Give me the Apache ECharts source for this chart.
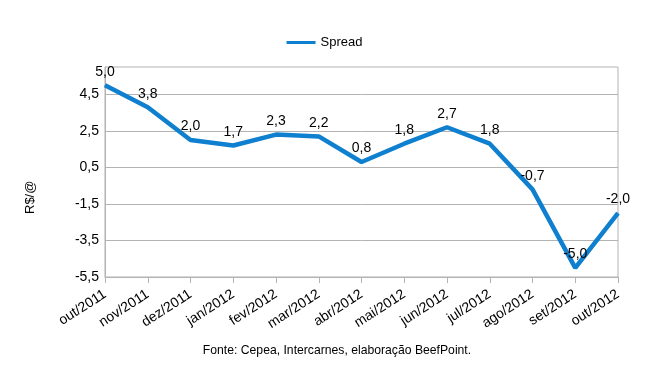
<!DOCTYPE html>
<html><head><meta charset="utf-8">
<script src="https://cdn.jsdelivr.net/npm/echarts@6/dist/echarts.min.js"></script>
<style>html,body{margin:0;padding:0;background:#fff}#c{width:649px;height:379px}</style>
</head><body><div id="c"></div>
<script>
const categories = ['out/2011','nov/2011','dez/2011','jan/2012','fev/2012','mar/2012','abr/2012','mai/2012','jun/2012','jul/2012','ago/2012','set/2012','out/2012'];
const spread = [5.0, 3.8, 2.0, 1.7, 2.3, 2.2, 0.8, 1.8, 2.7, 1.8, -0.7, -5.0, -2.0];
const yTicks = [-5.5, -3.5, -1.5, 0.5, 2.5, 4.5];
const seriesName = 'Spread';
const yName = 'R$/@';
const footer = 'Fonte: Cepea, Intercarnes, elaboração BeefPoint.';

const fmt = v => Number(v).toFixed(1).replace('.', ',');
const FONT = '"Liberation Sans", Arial, sans-serif';
const chart = echarts.init(document.getElementById('c'), null, {renderer: 'canvas'});
chart.setOption({
  animation: false,
  backgroundColor: '#fff',
  textStyle: {fontFamily: FONT},
  legend: {
    top: 31, left: 'center',
    itemWidth: 29, itemHeight: 12, itemGap: 5,
    icon: 'path://M0,4.5 L29,4.5 L29,7.5 L0,7.5 Z',
    textStyle: {fontFamily: FONT, fontSize: 13, color: '#000'},
    data: [seriesName]
  },
  grid: {left: 105, right: 31, top: 67, bottom: 102, show: true, borderColor: '#b3b3b3', borderWidth: 1, backgroundColor: 'transparent'},
  xAxis: {
    type: 'category', data: categories, boundaryGap: false,
    axisLine: {onZero: false, lineStyle: {color: '#b3b3b3'}},
    axisTick: {show: true, length: 6, lineStyle: {color: '#b3b3b3'}, alignWithLabel: true},
    axisLabel: {rotate: 33, color: '#000', fontSize: 14, fontFamily: FONT, margin: 16, interval: 0},
    splitLine: {show: false}
  },
  yAxis: {
    type: 'value', min: -5.5, max: 6.0,
    axisLine: {show: true, lineStyle: {color: '#b3b3b3'}},
    axisTick: {show: false, customValues: yTicks},
    axisLabel: {customValues: yTicks, color: '#000', fontSize: 14, fontFamily: FONT, margin: 6, formatter: v => fmt(v)},
    splitLine: {show: true, lineStyle: {color: '#b3b3b3', width: 1}}
  },
  graphic: [
    {type: 'text', rotation: Math.PI/2, style: {text: yName, font: '13px ' + FONT, fill: '#000'}, x: 24, y: 214},
    {type: 'text', x: 337, y: 351, style: {text: footer, font: '12.2px ' + FONT, fill: '#000', align: 'center', verticalAlign: 'middle'}}
  ],
  series: [{
    name: seriesName, type: 'line', data: spread,
    symbol: 'circle', symbolSize: 1, showSymbol: true, color: '#0f80cf',
    itemStyle: {color: '#0f80cf'},
    lineStyle: {width: 4.5, color: '#0f80cf'},
    label: {show: true, position: 'top', distance: 6, color: '#000', fontSize: 14, fontFamily: FONT, formatter: p => fmt(p.value)},
    labelLayout: {hideOverlap: false}
  }]
});
</script></body></html>
